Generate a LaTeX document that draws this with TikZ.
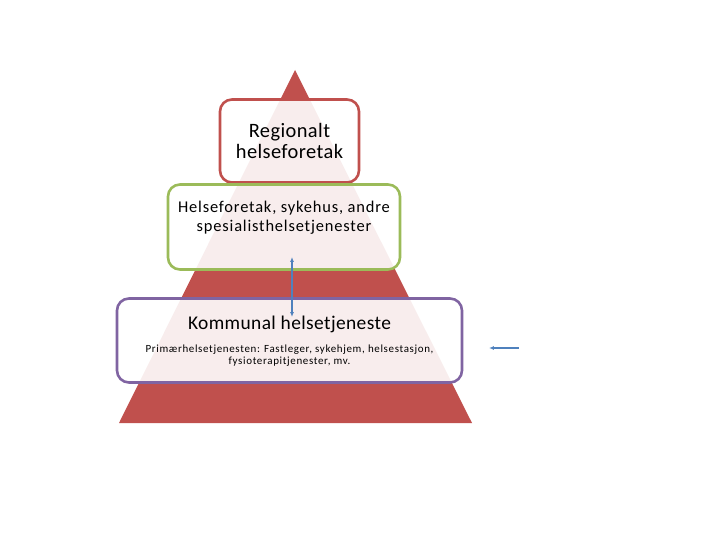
\documentclass[tikz,border=0pt]{standalone}
\usepackage{fontspec}
\setmainfont{Carlito}
\usetikzlibrary{arrows.meta}
\definecolor{pyrred}{HTML}{C0504D}
\definecolor{lvlgreen}{HTML}{9BBB59}
\definecolor{lvlpurple}{HTML}{8064A2}
\definecolor{linkblue}{HTML}{4F81BD}
\begin{document}
\begin{tikzpicture}[x=1bp,y=-1bp]
% Level boxes
\tikzstyle{level_box} = [rectangle, rounded corners=12bp, line width=2.6bp, fill=white, fill opacity=0.9, draw opacity=1]
\tikzstyle{link_arrow} = [linkblue, line width=1.2bp]
\useasboundingbox (0,0) rectangle (720,540);

% Pyramid
\fill[pyrred] (295,70) -- (472,423) -- (119,423) -- cycle;

% Regional level
\node[level_box, draw=pyrred, minimum width=139bp, minimum height=83bp] (regbox) at (289.5,141) {};
\node[align=center, font=\fontsize{20.5}{22}\selectfont\addfontfeature{LetterSpace=2}] (regtext) at (289.5,141) {Regionalt\\helseforetak};

% Specialist level
\node[level_box, draw=lvlgreen, minimum width=232bp, minimum height=85bp] (specbox) at (284,227) {};
\node[align=center, font=\fontsize{16.5}{19}\selectfont\addfontfeature{LetterSpace=5}] (spectext) at (284,218) {Helseforetak, sykehus, andre\\spesialisthelsetjenester};

% Municipal level
\node[level_box, draw=lvlpurple, minimum width=345bp, minimum height=84bp] (kommbox) at (289.5,340.5) {};
\node[font=\fontsize{19.5}{22}\selectfont\addfontfeature{LetterSpace=2}] (kommtext) at (289.5,324) {Kommunal helsetjeneste};
\node[align=center, font=\fontsize{11}{11.5}\selectfont\addfontfeature{LetterSpace=6}] (primtext) at (289.5,355.5) {Primærhelsetjenesten: Fastleger, sykehjem, helsestasjon,\\fysioterapitjenester, mv.};

% Connectors
\coordinate (linktop) at (292,257);
\coordinate (linkbot) at (292,317);
\coordinate (sidestart) at (519,348);
\coordinate (sideend) at (489,348);
\draw[link_arrow, {Latex[length=5pt,width=4pt]}-{Latex[length=5pt,width=4pt]}] (linktop) -- (linkbot);
\draw[link_arrow, -{Latex[length=5pt,width=4pt]}] (sidestart) -- (sideend);
\end{tikzpicture}
\end{document}
